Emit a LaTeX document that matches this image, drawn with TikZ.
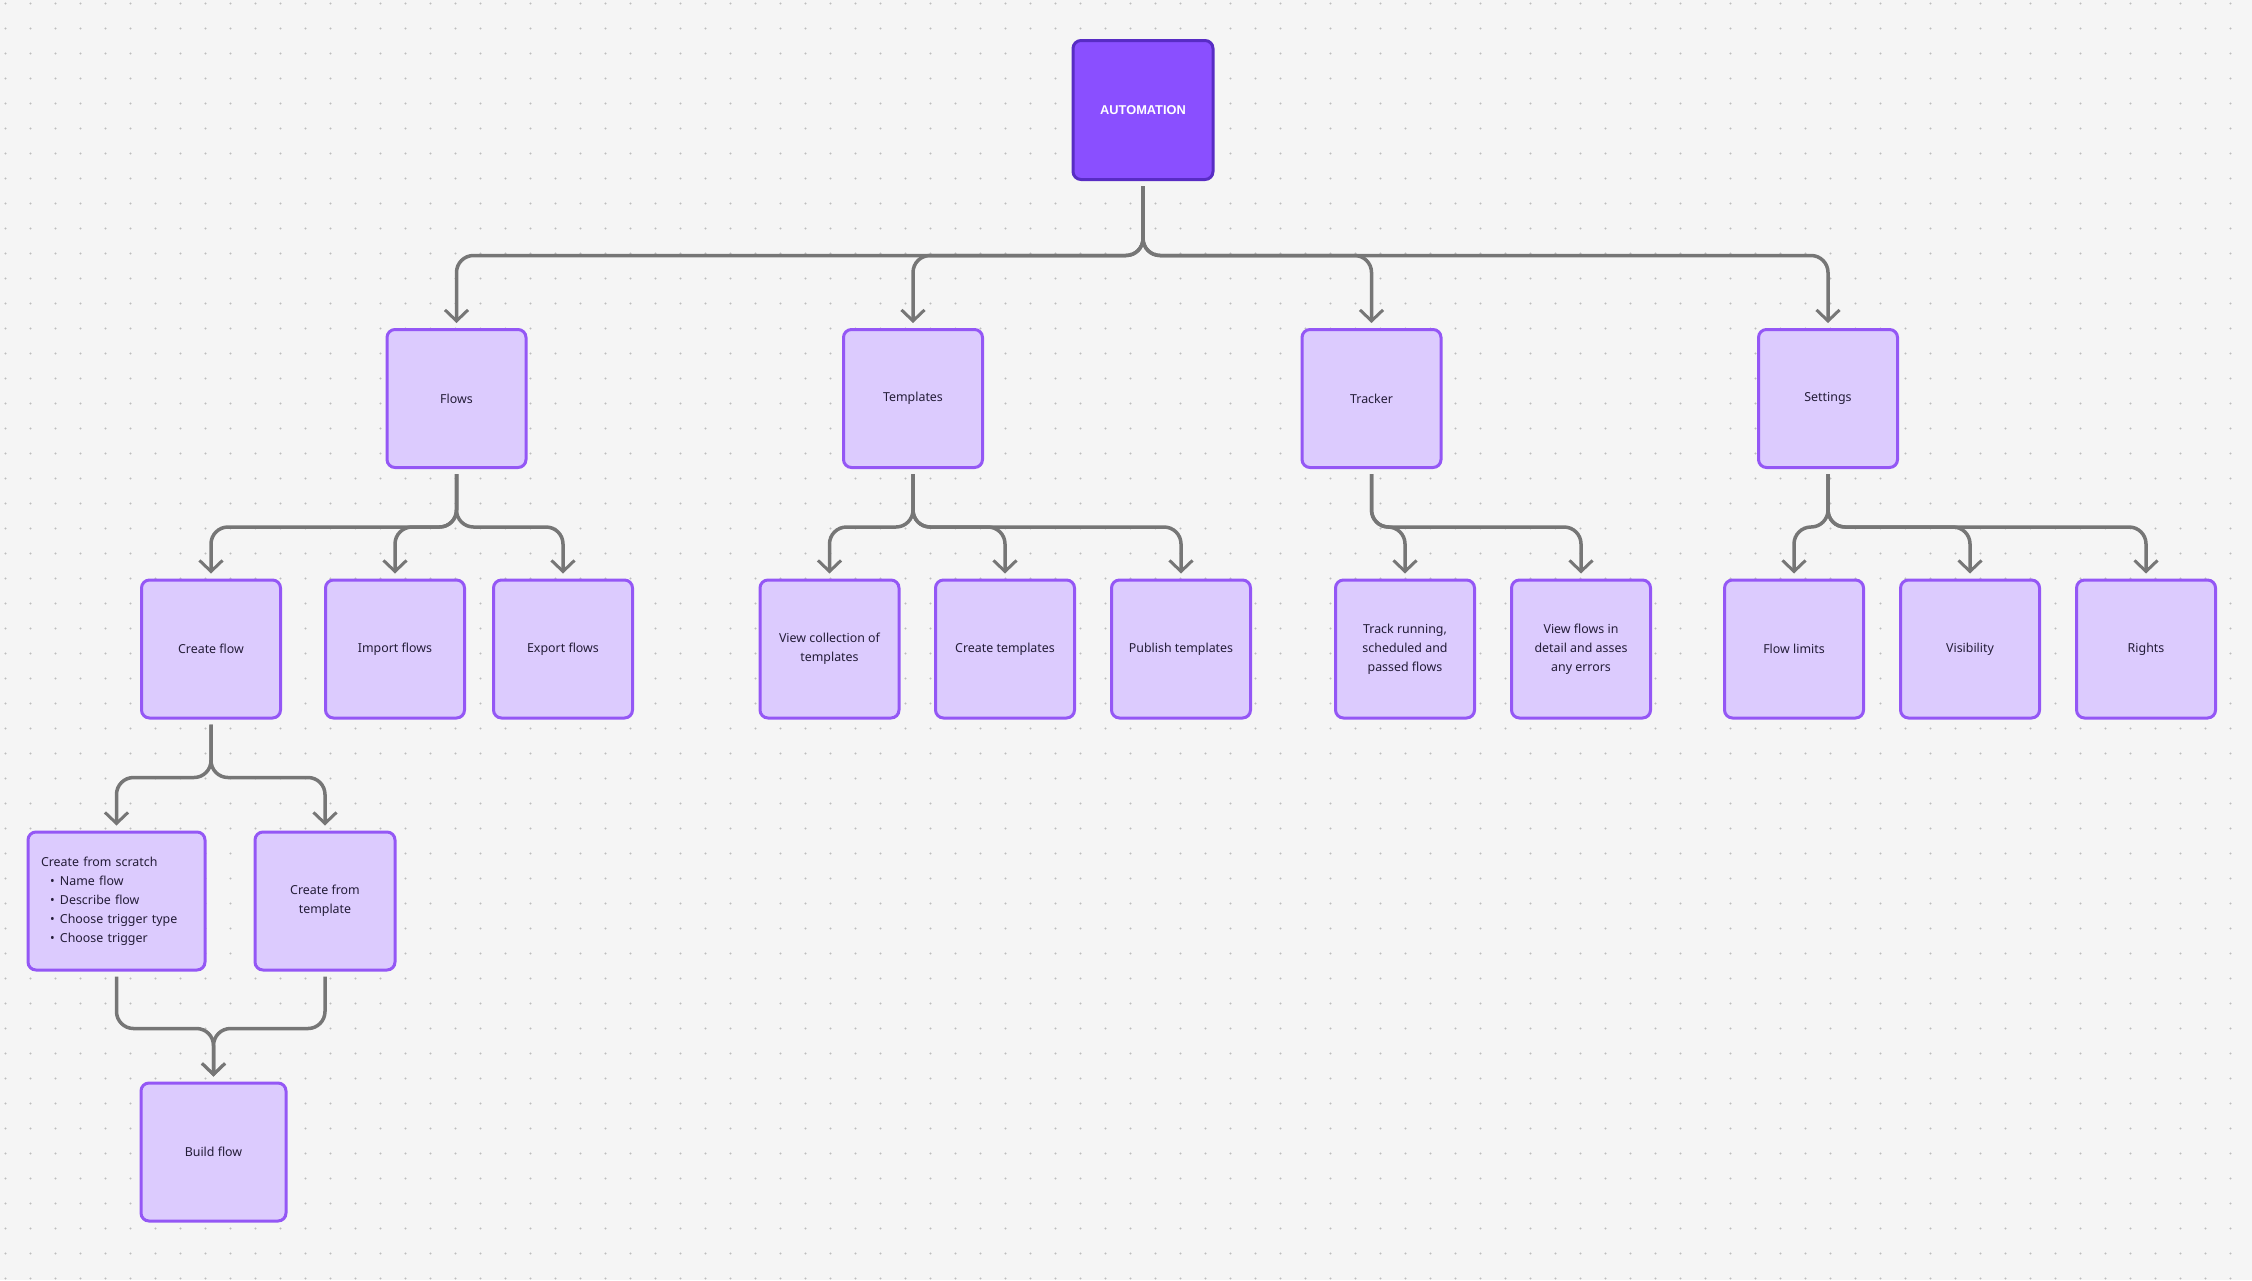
\documentclass[tikz,border=0pt]{standalone}
\usepackage{fontspec}
\setmainfont{Noto Sans}
\newfontfamily\rootfont{Liberation Sans}
\usetikzlibrary{arrows.meta, positioning, calc}
\usepackage{xcolor}
\definecolor{canvas}{RGB}{245,245,245}
\definecolor{griddot}{RGB}{190,190,190}
\definecolor{rootfill}{RGB}{138,79,255}
\definecolor{rootline}{RGB}{88,44,196}
\definecolor{boxfill}{RGB}{220,203,254}
\definecolor{boxline}{RGB}{148,87,245}
\definecolor{wire}{RGB}{118,118,118}
\definecolor{ink}{RGB}{36,29,56}
\newcommand{\listdot}{\hspace*{4.5pt}\makebox[5pt][l]{\textbullet}}

\begin{document}
\begin{tikzpicture}[
    x=0.5pt, y=-0.5pt,
    root/.style={rectangle, rounded corners=4pt, minimum width=70pt, minimum height=69.5pt, fill=rootfill, draw=rootline, line width=1.5pt, text=white, font=\rootfont\bfseries\fontsize{6.4}{9.5}\selectfont},
    topic/.style={rectangle, rounded corners=4pt, minimum width=69.5pt, minimum height=69pt, fill=boxfill, draw=boxline, line width=1.5pt, text=ink, align=center, font=\fontsize{6.2}{9.5}\selectfont},
    arr/.style={-{Straight Barb[length=5.5pt, width=11.5pt, line width=1.5pt]}, line width=1.75pt, draw=wire, rounded corners=8.5pt, shorten <=2.5pt, shorten >=2.5pt},
    dotrow/.style={griddot, line width=1.1pt, line cap=round, dash pattern=on 0pt off 12.5pt},
]

% Canvas
\fill[canvas] (0,0) rectangle (2252,1280);
\useasboundingbox (0,0) rectangle (2252,1280);
\foreach \r in {0,...,51}
    \draw[dotrow] (5.5,3.5+25*\r) -- (2252,3.5+25*\r);

\node[root] (auto) at (1143,110) {AUTOMATION};

\node[topic] (flows) at (456.5,398.5) {Flows};
\node[topic] (templates) at (913,398.5) {Templates};
\node[topic] (tracker) at (1371.5,398.5) {Tracker};
\node[topic] (settings) at (1828,398.5) {Settings};

\node[topic] (createflow) at (211,649) {Create flow};
\node[topic] (importflows) at (395,649) {Import flows};
\node[topic] (exportflows) at (563,649) {Export flows};
\node[topic] (viewcoll) at (829.5,649) {View collection of\\templates};
\node[topic] (createtpl) at (1005,649) {Create templates};
\node[topic] (publishtpl) at (1181,649) {Publish templates};
\node[topic] (trackrun) at (1405,649) {Track running,\\scheduled and\\passed flows};
\node[topic] (viewdetail) at (1581,649) {View flows in\\detail and asses\\any errors};
\node[topic] (flowlimits) at (1794,649) {Flow limits};
\node[topic] (visibility) at (1970,649) {Visibility};
\node[topic] (rights) at (2146,649) {Rights};

\node[topic, minimum width=88.5pt, text width=75.5pt, inner xsep=6.5pt, align=left] (scratch) at (116.5,901) {Create from scratch\\\listdot Name flow\\\listdot Describe flow\\\listdot Choose trigger type\\\listdot Choose trigger};
\node[topic, minimum width=70pt] (fromtpl) at (325,901) {Create from\\template};

\node[topic, minimum width=72.5pt] (build) at (213.5,1152) {Build flow};

% Arrows
\foreach \c in {flows,templates,tracker,settings}
    \draw[arr] (auto.south) -- ++(0,74.5) -| (\c.north);
\foreach \c in {createflow,importflows,exportflows}
    \draw[arr] (flows.south) -- ++(0,58) -| (\c.north);
\foreach \c in {viewcoll,createtpl,publishtpl}
    \draw[arr] (templates.south) -- ++(0,58) -| (\c.north);
\foreach \c in {trackrun,viewdetail}
    \draw[arr] (tracker.south) -- ++(0,58) -| (\c.north);
\foreach \c in {flowlimits,visibility,rights}
    \draw[arr] (settings.south) -- ++(0,58) -| (\c.north);
\foreach \c in {scratch,fromtpl}
    \draw[arr] (createflow.south) -- ++(0,58) -| (\c.north);
\foreach \c in {scratch,fromtpl}
    \draw[arr] (\c.south) -- ++(0,57) -| (build.north);

\end{tikzpicture}
\end{document}
